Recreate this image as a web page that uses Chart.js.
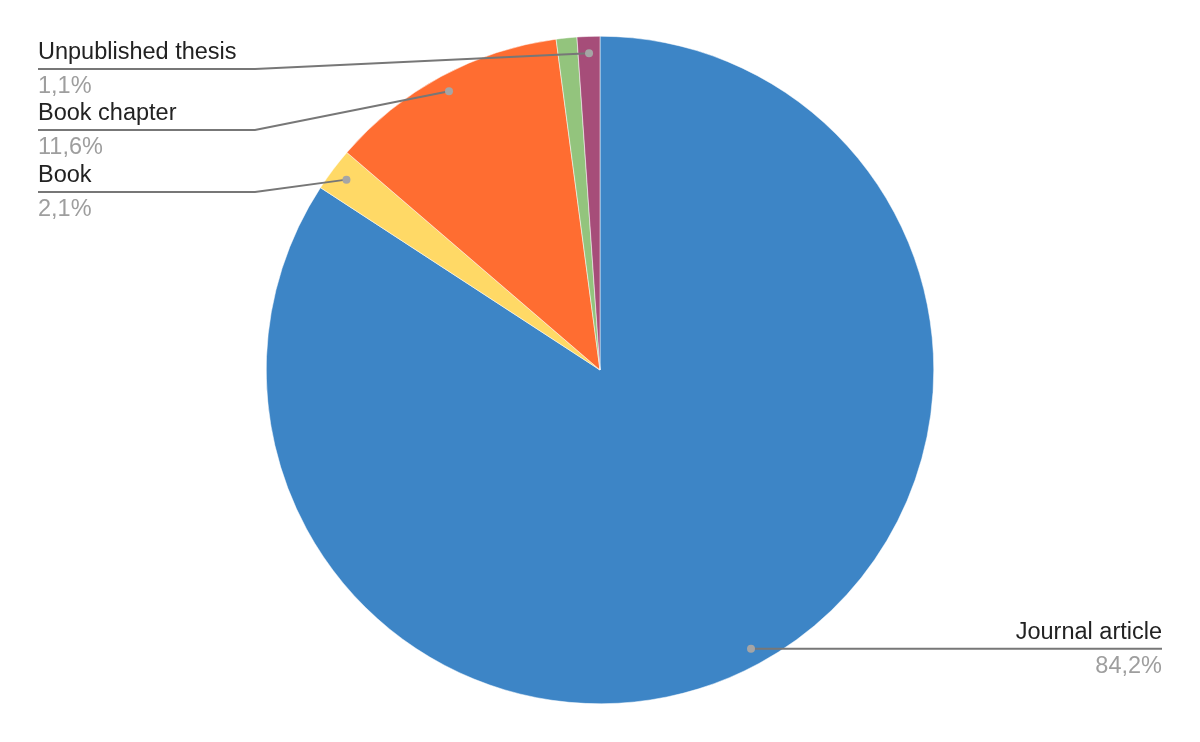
<!DOCTYPE html>
<html>
<head>
<meta charset="utf-8">
<script src="https://cdn.jsdelivr.net/npm/chart.js@4/dist/chart.umd.min.js"></script>
<style>
  html, body { margin: 0; padding: 0; background: #fff; }
  #wrap { width: 1200px; height: 742px; }
</style>
</head>
<body>
<div id="wrap"><canvas id="pubChart" width="1200" height="742"></canvas></div>
<script>
// data (clockwise from 12 o'clock)
const categories = ['Journal article', 'Book', 'Book chapter', 'Other', 'Unpublished thesis'];
const shares = [84.2, 2.1, 11.6, 1.0, 1.1];
const sliceColors = ['#3d85c6', '#ffd966', '#ff6d31', '#93c47d', '#a64d79'];
// which slices get a callout (the green one has none in the original)
const labelled = [true, true, true, false, true];

// where each callout's underline sits: side + y of the underline
const callouts = {
    0: { side: 'right' },
    1: { side: 'left', y: 192 },
    2: { side: 'left', y: 130 },
    4: { side: 'left', y: 69 }
};

function fmtPct(v) {
    return v.toFixed(1).replace('.', ',') + '%';
}

const calloutPlugin = {
    id: 'callouts',
    afterDatasetsDraw(chart) {
        const ctx = chart.ctx;
        const meta = chart.getDatasetMeta(0);
        const total = shares.reduce((a, b) => a + b, 0);

        meta.data.forEach((arc, i) => {
            if (!labelled[i]) return;
            const c = callouts[i];
            const mid = (arc.startAngle + arc.endAngle) / 2;
            const r = arc.outerRadius * 0.95;
            const dx = arc.x + Math.cos(mid) * r;
            const dy = arc.y + Math.sin(mid) * r;
            const pct = fmtPct(shares[i] / total * 100);

            ctx.save();
            ctx.strokeStyle = '#777777';
            ctx.lineWidth = 2;
            ctx.beginPath();
            let uy;
            if (c.side === 'left') {
                uy = c.y;
                ctx.moveTo(dx, dy);
                ctx.lineTo(255, uy);
                ctx.lineTo(38, uy);
            } else {
                uy = dy;
                ctx.moveTo(dx, dy);
                ctx.lineTo(1162, uy);
            }
            ctx.stroke();

            ctx.fillStyle = '#a5a5a5';
            ctx.beginPath();
            ctx.arc(dx, dy, 4, 0, Math.PI * 2);
            ctx.fill();

            ctx.font = '23.5px "Liberation Sans", Arial, sans-serif';
            ctx.textBaseline = 'alphabetic';
            ctx.textAlign = c.side === 'left' ? 'left' : 'right';
            const tx = c.side === 'left' ? 38 : 1162;
            ctx.fillStyle = '#222222';
            ctx.fillText(categories[i], tx, uy - 10);
            ctx.fillStyle = '#9e9e9e';
            ctx.fillText(pct, tx, uy + 24);
            ctx.restore();
        });
    }
};

new Chart(document.getElementById('pubChart'), {
    type: 'pie',
    data: {
        labels: categories,
        datasets: [{
            data: shares,
            backgroundColor: sliceColors,
            borderColor: '#ffffff',
            borderWidth: 0.5
        }]
    },
    options: {
        responsive: false,
        animation: false,
        layout: { padding: { top: 36, bottom: 38, left: 0, right: 0 } },
        plugins: {
            legend: { display: false },
            tooltip: { enabled: false }
        }
    },
    plugins: [calloutPlugin]
});
</script>
</body>
</html>
